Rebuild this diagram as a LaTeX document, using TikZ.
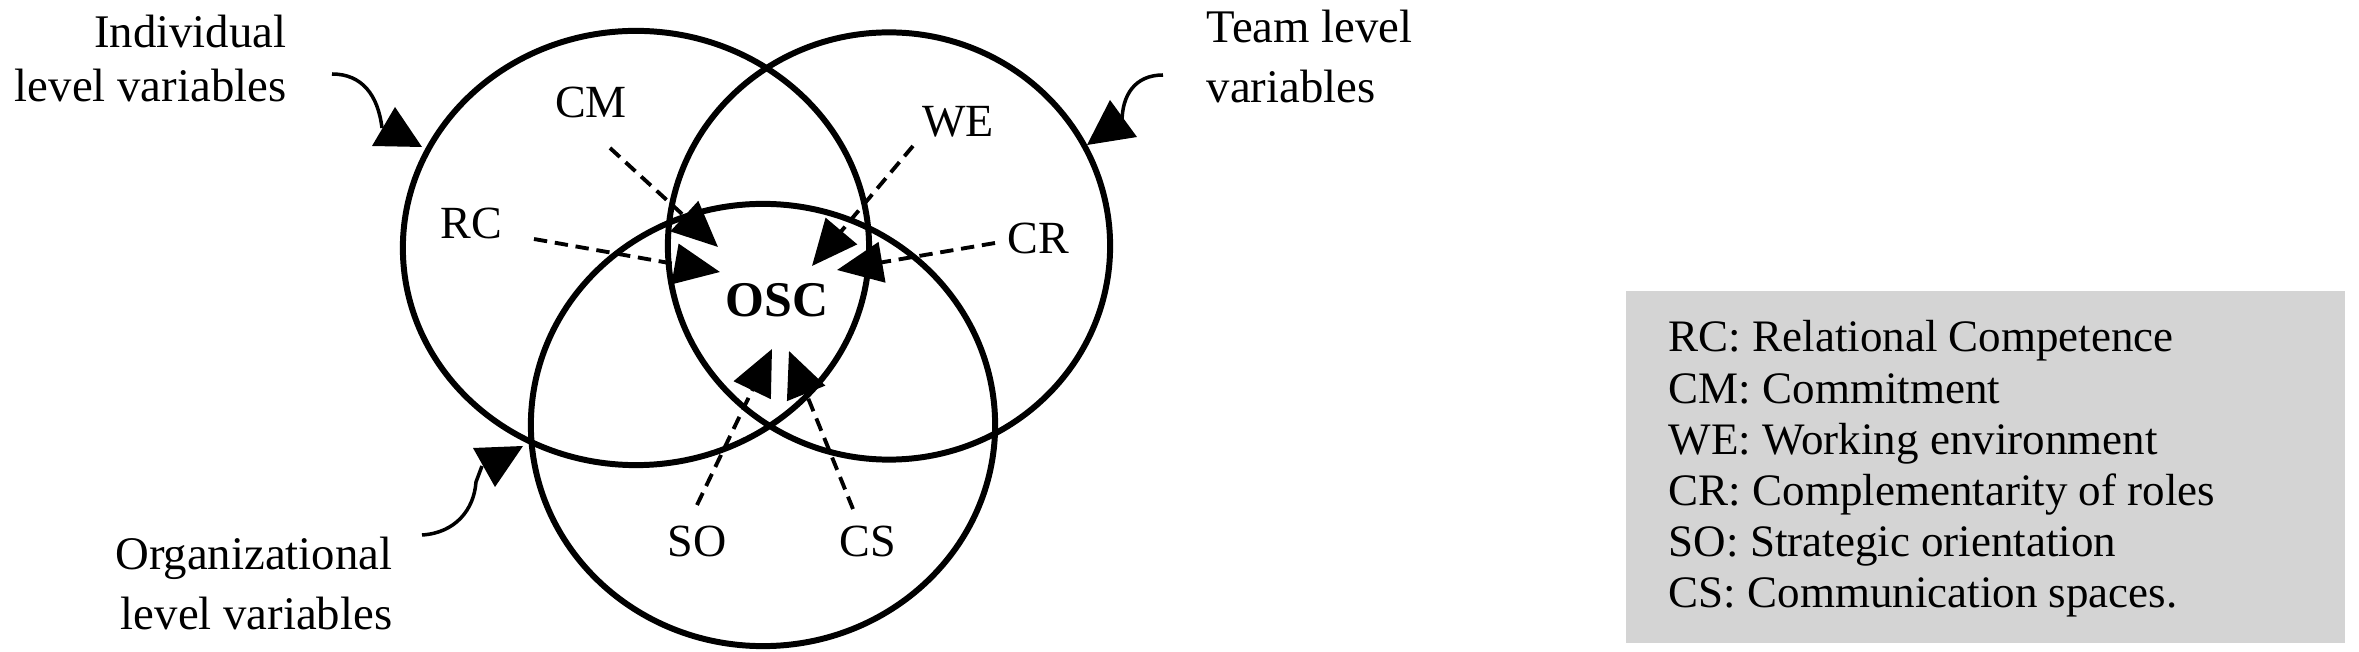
\documentclass[tikz,border=0pt]{standalone}
\usepackage{fontspec}
\setmainfont{Liberation Serif}
\usetikzlibrary{arrows.meta,shapes.geometric}
\definecolor{legendgray}{RGB}{212,212,212}
\tikzset{
  venn/.style={draw=black, ellipse, line width=1.7pt, inner sep=0pt},
  lbl/.style={inner sep=0pt, font=\fontsize{13.1pt}{15pt}\selectfont},
  sidelbl/.style={inner sep=0pt, font=\fontsize{13.3pt}{#1}\selectfont},
  dasharrow/.style={line width=1.1pt, dash pattern=on 3.8pt off 2.2pt,
    -{Triangle[length=13pt, width=11.5pt]}},
  curvearrow/.style={line width=1pt},
  bighead/.style={fill=black},
}
\begin{document}
\begin{tikzpicture}[x=0.01cm, y=-0.01cm]
\useasboundingbox[fill=white] (0,0) rectangle (2359,652);

% Venn ellipses
\node[venn, minimum width=4.66cm, minimum height=4.34cm] (indiv) at (636,248) {};
\node[venn, minimum width=4.42cm, minimum height=4.27cm] (team) at (889,246) {};
\node[venn, minimum width=4.64cm, minimum height=4.42cm] (org) at (763,425) {};

% Labels
\node[lbl, anchor=base] (CM) at (591,118) {CM};
\node[lbl, anchor=base] (WE) at (958,137) {WE};
\node[lbl, anchor=base] (RC) at (471,239) {RC};
\node[lbl, anchor=base] (CR) at (1038,254) {CR};
\node[lbl, anchor=base] (SO) at (697,557) {SO};
\node[lbl, anchor=base] (CS) at (868,557) {CS};
\node[inner sep=0pt, anchor=base, font=\fontsize{14.2pt}{16pt}\selectfont\bfseries] (OSC) at (777,317) {OSC};

% Dashed arrow end points
\coordinate (cmS) at (610,148);  \coordinate (cmT) at (718,247);
\coordinate (rcS) at (534,239);  \coordinate (rcT) at (720,272);
\coordinate (weS) at (913,146);  \coordinate (weT) at (812,266);
\coordinate (crS) at (995,243);  \coordinate (crT) at (837,270);
\coordinate (soS) at (697,505);  \coordinate (soT) at (772,349);
\coordinate (csS) at (853,509);  \coordinate (csT) at (789,351);

\draw[dasharrow] (cmS) -- (cmT);
\draw[dasharrow] (rcS) -- (rcT);
\draw[dasharrow] (weS) -- (weT);
\draw[dasharrow] (crS) -- (crT);
\draw[dasharrow] (soS) -- (soT);
\draw[dasharrow] (csS) -- (csT);

% Side labels (anchor = baseline of the last line)
\node[sidelbl=15.4pt, anchor=base east, align=right] (indlbl) at (287,102) {Individual\\level variables};
\node[sidelbl=17.1pt, anchor=base west, align=left] (teamlbl) at (1206,103) {Team level\\variables};
\node[sidelbl=17.1pt, anchor=base east, align=right] (orglbl) at (393,630) {Organizational\\level variables};

% Curved pointer arrows with triangular heads
\coordinate (indS) at (332,74);  \coordinate (indE) at (382,128);
\draw[curvearrow] (indS) .. controls (362,74) and (378,95) .. (indE);
\fill[bighead] (395,107) -- (372,146) -- (422,147) -- cycle;

\coordinate (teamS) at (1163,75); \coordinate (teamE) at (1122,122);
\draw[curvearrow] (teamS) .. controls (1135,75) and (1122,95) .. (teamE);
\fill[bighead] (1110,100) -- (1087,145) -- (1137,137) -- cycle;

\coordinate (orgS) at (422,535); \coordinate (orgE) at (482,466);
\draw[curvearrow] (orgS) .. controls (455,533) and (474,510) .. (476,482) -- (orgE);
\fill[bighead] (473,448) -- (523,446) -- (495,487) -- cycle;

% Legend
\node[fill=legendgray, inner sep=0pt, minimum width=7.19cm, minimum height=3.52cm] (legendbox) at (1985.5,467) {};
\node[inner sep=0pt, anchor=base west, align=left, font=\fontsize{12.8pt}{14.57pt}\selectfont] (legendtext) at (1668,608)
  {RC: Relational Competence\\CM: Commitment\\WE: Working environment\\CR: Complementarity of roles\\SO: Strategic orientation\\CS: Communication spaces.};
\end{tikzpicture}
\end{document}
